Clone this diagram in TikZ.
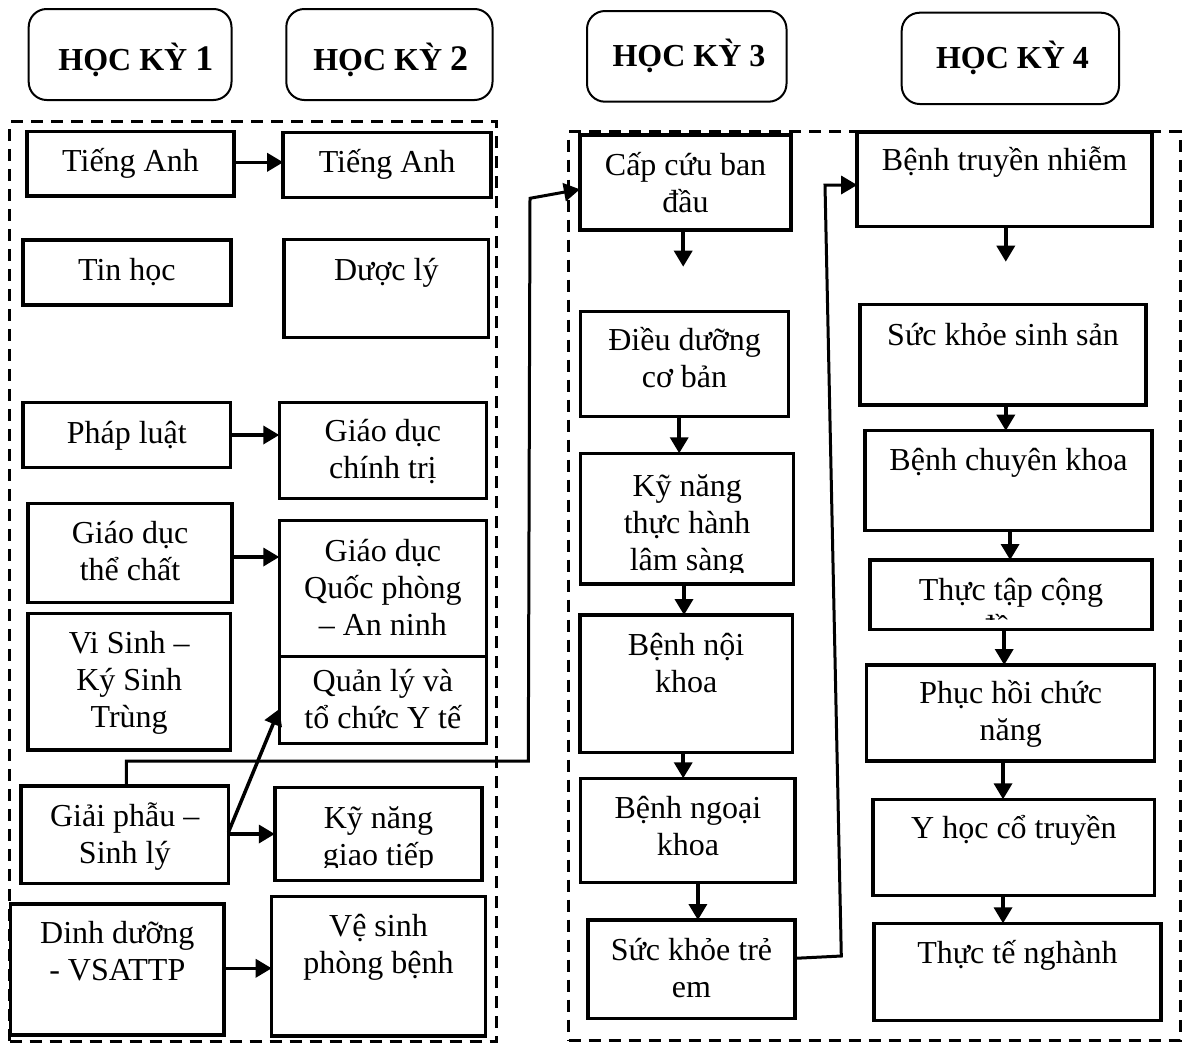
\documentclass[tikz,border=0pt]{standalone}
\usepackage{fontspec}
\setmainfont{Liberation Serif}
\usetikzlibrary{arrows.meta,fit}
\newcommand\bodyfont{\fontsize{32}{36.8}\selectfont\lineskiplimit=-100pt\lineskip=0pt\relax}
\newcommand\bigdigit[1]{{\fontsize{36}{40}\selectfont #1}}
\newcommand\bx[5]{\node[box, fit={(#2,#3) (#4,#5)}] (#1) {};}
\newcommand\tx[4]{\node[txt] (#1) at (#2.center |- 0,#3-32) {\rule{0pt}{32pt}#4};}
\tikzset{
  grp/.style={draw, dash pattern=on 12pt off 8pt, line width=3pt, inner sep=0pt, outer sep=0pt},
  hdr/.style={draw, line width=2pt, rounded corners=18pt, inner sep=0pt, outer sep=0pt},
  htxt/.style={anchor=base, inner sep=0pt, font=\fontsize{32}{37}\selectfont\bfseries},
  box/.style={draw, line width=3.5pt, fill=white, inner sep=0pt, outer sep=0pt, rectangle},
  txt/.style={anchor=north, inner sep=0pt, align=center, font=\bodyfont},
  tip/.style={-{Triangle[length=16pt,width=18pt]}},
  arr/.style={line width=3.5pt, tip},
  conn/.style={line width=3pt, tip}
}
\begin{document}
\begin{tikzpicture}[x=1pt, y=-1pt]
\useasboundingbox (0,0) rectangle (1183,1042);
% semester groups
\node[grp, fit={(9.6,121.7) (496.4,1041)}] (g12) {};
\node[grp, fit={(568.7,131.7) (1180.6,1040)}] (g34) {};
% headers
\node[hdr, fit={(28.7,9) (231.5,100)}] (h1) {};
\node[htxt] (h1t) at (135.9,70) {HỌC KỲ \bigdigit{1}};
\node[hdr, fit={(286.3,9) (492.5,100)}] (h2) {};
\node[htxt] (h2t) at (390.7,70) {HỌC KỲ \bigdigit{2}};
\node[hdr, fit={(587,11) (786.5,101.7)}] (h3) {};
\node[htxt] (h3t) at (689,66.7) {HỌC KỲ 3};
\node[hdr, fit={(901.7,12.7) (1119,104)}] (h4) {};
\node[htxt] (h4t) at (1012.5,68.3) {HỌC KỲ 4};
% column 1
\bx{ta1}{26.8}{131.7}{234.2}{196}
\bx{th}{23}{240}{230.8}{305}
\bx{pl}{23.2}{402.7}{230.4}{467.3}
\bx{gdtc}{27.9}{503.3}{232.1}{602.7}
\bx{vs}{27.9}{613.3}{230.4}{750}
\bx{gp}{21}{786}{228.5}{883.3}
\bx{ddg}{10.7}{904}{223.9}{1035}
% column 2
\bx{ta2}{283.2}{132.7}{491}{197.3}
\bx{dl}{284}{239.3}{488.6}{337.3}
\bx{gdct}{279.3}{402.7}{486.4}{498.3}
\bx{gdqp}{279.3}{520.7}{486.4}{656.7}
\bx{ql}{279.3}{656.7}{486.4}{743.3}
\bx{kngt}{274.8}{787.3}{482.2}{880.7}
\bx{vsp}{271.7}{896.7}{485.3}{1036}
% column 3
\bx{cc}{579.9}{135}{791.2}{230}
\bx{ddcb}{580.7}{311.7}{788.4}{416.7}
\bx{kntt}{580.7}{453.3}{793.6}{584}
\bx{bnk}{579.9}{615}{792.4}{752.7}
\bx{bngk}{580.7}{778.3}{795.2}{882.7}
\bx{skte}{587.8}{920}{795.2}{1018.3}
% column 4
\bx{btn}{857.2}{132}{1152}{226.7}
\bx{skss}{860}{304.3}{1146}{405}
\bx{bck}{865.1}{430.7}{1152}{530.7}
\bx{ttcd}{869.9}{560}{1152}{629.3}
\bx{phcn}{866.7}{665}{1154.7}{761}
\bx{yhct}{873}{799.3}{1154.7}{895.7}
\bx{ttn}{873.9}{923.3}{1161.1}{1020.7}
% texts
\tx{t-ta1}{ta1}{171.7}{Tiếng Anh}
\tx{t-th}{th}{280}{Tin học}
\tx{t-pl}{pl}{443.3}{Pháp luật}
\tx{t-gdtc}{gdtc}{543.3}{Giáo dục\\thể chất}
\tx{t-vs}{vs}{653.3}{Vi Sinh –\\Ký Sinh\\Trùng}
\tx{t-gp}{gp}{826.7}{Giải phẫu –\\Sinh lý}
\tx{t-ddg}{ddg}{943.3}{Dinh dưỡng\\- VSATTP}
\tx{t-ta2}{ta2}{172}{Tiếng Anh}
\tx{t-dl}{dl}{280}{Dược lý}
\tx{t-gdct}{gdct}{441.7}{Giáo dục\\chính trị}
\tx{t-gdqp}{gdqp}{561.7}{Giáo dục\\Quốc phòng\\– An ninh}
\tx{t-ql}{ql}{691.7}{Quản lý và\\tổ chức Y tế}
\begin{scope}
\clip (kngt.north west) rectangle (kngt.east |- 0,867);
\tx{t-kngt}{kngt}{828.3}{Kỹ năng\\giao tiếp}
\end{scope}
\tx{t-vsp}{vsp}{936.7}{Vệ sinh\\phòng bệnh}
\tx{t-cc}{cc}{175}{Cấp cứu ban\\đầu}
\tx{t-ddcb}{ddcb}{350}{Điều dưỡng\\cơ bản}
\begin{scope}
\clip (kntt.north west) rectangle (kntt.east |- 0,572.7);
\tx{t-kntt}{kntt}{496.7}{Kỹ năng\\thực hành\\lâm sàng}
\end{scope}
\tx{t-bnk}{bnk}{655}{Bệnh nội\\khoa}
\tx{t-bngk}{bngk}{818.3}{Bệnh ngoại\\khoa}
\tx{t-skte}{skte}{960}{Sức khỏe trẻ\\em}
\tx{t-btn}{btn}{170}{Bệnh truyền nhiễm}
\tx{t-skss}{skss}{345}{Sức khỏe sinh sản}
\tx{t-bck}{bck}{470}{Bệnh chuyên khoa}
\begin{scope}
\clip (ttcd.north west) rectangle (ttcd.east |- 0,619);
\tx{t-ttcd}{ttcd}{600}{Thực tập cộng\\đồng}
\end{scope}
\tx{t-phcn}{phcn}{703.3}{Phục hồi chức\\năng}
\tx{t-yhct}{yhct}{838.3}{Y học cổ truyền}
\tx{t-ttn}{ttn}{963.3}{Thực tế nghành}
% free ends
\coordinate (ccend) at (683.2,266.7);
\coordinate (btnend) at (1005.8,261.7);
% connectors, semesters 1-2
\draw[arr] (ta1.east |- 0,162.3) -- (ta2.west |- 0,162.3);
\draw[arr] (pl.east |- 0,435) -- (gdct.west |- 0,435);
\draw[arr] (gdtc.east |- 0,557) -- (gdqp.west |- 0,557);
\draw[arr] (gp.east |- 0,834) -- (kngt.west |- 0,834);
\draw[arr] (gp.east |- 0,832) -- (ql.west |- 0,709);
\draw[arr] (ddg.east |- 0,968.3) -- (vsp.west |- 0,968.3);
\draw[conn] (gp.north -| 126.3,0) -- (126.3,761) -- (528.3,761) -- (530,198.3) -- (cc.west |- 0,189.3);
% semester 3
\draw[arr] (cc.south -| ccend) -- (ccend);
\draw[arr] (ddcb.south -| 679.2,0) -- (kntt.north -| 679.2,0);
\draw[arr] (kntt.south -| 684,0) -- (bnk.north -| 684,0);
\draw[arr] (bnk.south -| 683.2,0) -- (bngk.north -| 683.2,0);
\draw[arr] (bngk.south -| 697.9,0) -- (skte.north -| 697.9,0);
\draw[conn] (skte.east |- 0,958.3) -- (841.3,956) -- (825,185) -- (btn.west |- 0,185);
% semester 4
\draw[arr] (btn.south -| btnend) -- (btnend);
\draw[arr] (skss.south -| 1005.8,0) -- (bck.north -| 1005.8,0);
\draw[arr] (bck.south -| 1010.1,0) -- (ttcd.north -| 1010.1,0);
\draw[arr] (ttcd.south -| 1004.2,0) -- (phcn.north -| 1004.2,0);
\draw[arr] (phcn.south -| 1003,0) -- (yhct.north -| 1003,0);
\draw[arr] (yhct.south -| 1003,0) -- (ttn.north -| 1003,0);
\end{tikzpicture}
\end{document}
